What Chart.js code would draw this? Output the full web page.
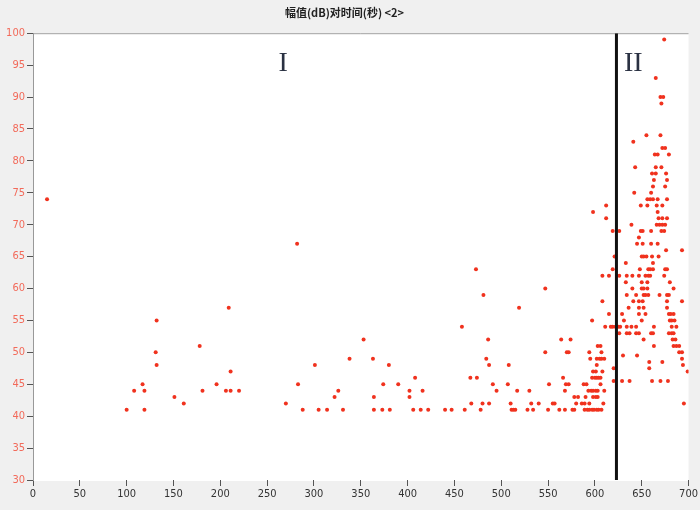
<!DOCTYPE html>
<html>
<head>
<meta charset="utf-8">
<script src="https://cdn.jsdelivr.net/npm/chart.js@4"></script>
<style>
  body { margin: 0; background: #f0f0f0; }
  canvas { display: block; }
</style>
</head>
<body>
<canvas id="chart" width="700" height="510"></canvas>
<script>
// time (s) and amplitude (dB) of each event, same order in both arrays
const timeSec = [
  15, 100, 108, 117, 119, 119, 131, 132, 132, 151, 161, 178, 181, 196, 206, 209, 211, 211, 220,
  270, 282, 283, 288, 301, 305, 314, 322, 326, 331, 338,
  353, 363, 364, 364, 373, 374, 380, 381, 390, 402, 402, 406, 408, 414, 416, 422,
  440, 447, 458, 461, 467, 468, 473, 474, 478, 480, 481, 484, 486, 487, 487, 491, 495,
  507, 508, 510, 511, 513, 515, 517, 519, 528, 530, 532, 534, 540, 547, 547, 550, 551, 555, 557,
  562, 564, 566, 568, 568, 569, 570, 572, 572, 574, 576, 578, 578, 580, 582,
  589, 592, 594, 597, 599, 602, 604, 607,
  586, 589, 594, 609, 695,
  590, 598, 601, 603,
  593, 596, 598, 601, 603, 610,
  588, 591, 606,
  620, 629, 637, 661, 670, 678,
  597, 600, 602, 604, 606,
  598, 601, 608, 699,
  620, 658,
  602, 694,
  658, 672,
  595, 602, 605, 607, 610, 693,
  630, 645,
  594, 607, 690, 693,
  603, 606, 663, 684, 687, 690,
  652, 683, 686,
  626, 634, 637, 644, 647, 660, 662, 679, 682, 684,
  611, 617, 619, 622, 625, 627, 634, 639, 644, 663, 682, 687,
  597, 631, 650, 680, 682, 685,
  615, 629, 647, 654, 679, 681, 684,
  636, 647, 652, 677,
  608, 641, 647, 651, 677, 693,
  634, 644, 652, 654, 657, 669, 677, 679,
  640, 650, 652, 656, 684,
  633, 650, 656, 680,
  608, 615, 626, 634, 640, 647, 654, 657, 659, 674,
  619, 648, 657, 659, 662, 675, 677,
  633, 662,
  621, 650, 652, 655, 661, 668,
  676, 693,
  645, 651, 660, 667,
  647,
  619, 626, 649, 651, 660, 671, 674,
  639, 666, 669, 672, 675,
  612, 668, 672, 677,
  598, 667,
  612, 649, 656, 666, 672,
  656, 659, 662, 667, 677,
  642, 660,
  662, 675,
  663, 677,
  661, 665, 676,
  643, 665, 671,
  664, 667, 679,
  672, 675,
  641,
  655, 670,
  671,
  670, 673,
  665,
  674
];
const ampDb = [
  74, 41, 44, 45, 44, 41, 50, 48, 55, 43, 42, 51, 44, 45, 44, 57, 47, 44, 44,
  42, 67, 45, 41, 48, 41, 41, 43, 44, 41, 49,
  52, 49, 43, 41, 41, 45, 48, 41, 45, 44, 43, 41, 46, 41, 44, 41,
  41, 41, 54, 41, 46, 42, 63, 46, 41, 42, 59, 49, 52, 48, 42, 45, 44,
  45, 48, 42, 41, 41, 41, 44, 57, 41, 44, 42, 41, 42, 50, 60, 41, 45, 42, 42,
  41, 52, 46, 44, 41, 45, 50, 45, 50, 52, 41, 41, 43, 42, 43,
  41, 41, 41, 41, 41, 41, 41, 41,
  42, 42, 42, 42, 42,
  43, 43, 43, 43,
  44, 44, 44, 44, 44, 44,
  45, 45, 45,
  45.5, 45.5, 45.5, 45.5, 45.5, 45.5,
  46, 46, 46, 46, 46,
  47, 47, 47, 47,
  47.5, 47.5,
  48, 48,
  48.5, 48.5,
  49, 49, 49, 49, 49, 49,
  49.5, 49.5,
  50, 50, 50, 50,
  51, 51, 51, 51, 51, 51,
  52, 52, 52,
  53, 53, 53, 53, 53, 53, 53, 53, 53, 53,
  54, 54, 54, 54, 54, 54, 54, 54, 54, 54, 54, 54,
  55, 55, 55, 55, 55, 55,
  56, 56, 56, 56, 56, 56, 56,
  57, 57, 57, 57,
  58, 58, 58, 58, 58, 58,
  59, 59, 59, 59, 59, 59, 59, 59,
  60, 60, 60, 60, 60,
  61, 61, 61, 61,
  62, 62, 62, 62, 62, 62, 62, 62, 62, 62,
  63, 63, 63, 63, 63, 63, 63,
  64, 64,
  65, 65, 65, 65, 65, 65,
  66, 66,
  67, 67, 67, 67,
  68,
  69, 69, 69, 69, 69, 69, 69,
  70, 70, 70, 70, 70,
  71, 71, 71, 71,
  72, 72,
  73, 73, 73, 73, 73,
  74, 74, 74, 74, 74,
  75, 75,
  76, 76,
  77, 77,
  78, 78, 78,
  79, 79, 79,
  81, 81, 81,
  82, 82,
  83,
  84, 84,
  89,
  90, 90,
  93,
  99
];

const dividerTime = 623;
const regionLabels = ["I", "II"];
const regionLabelX = [267, 641];
const regionLabelY = [95.3, 95.3];

const points = timeSec.map((t, i) => ({ x: t, y: ampDb[i] }));

// white plot area, top frame line and the I / II marks
const plotDecor = {
  id: "plotDecor",
  beforeDraw(chart) {
    const { ctx, chartArea: a } = chart;
    ctx.save();
    ctx.fillStyle = "#ffffff";
    ctx.fillRect(a.left, a.top, a.right - a.left, a.bottom - a.top + 1);
    ctx.strokeStyle = "#a0a0a0";
    ctx.lineWidth = 1;
    ctx.beginPath();
    ctx.moveTo(a.left, a.top + 0.5);
    ctx.lineTo(a.right, a.top + 0.5);
    ctx.stroke();
    ctx.restore();
  },
  afterDatasetsDraw(chart) {
    const { ctx } = chart;
    const xs = chart.scales.x, ys = chart.scales.y;
    ctx.save();
    ctx.font = '28px "Liberation Serif", "DejaVu Serif", serif';
    ctx.fillStyle = "#2a3142";
    ctx.textAlign = "center";
    ctx.textBaseline = "middle";
    regionLabels.forEach((t, i) => {
      ctx.fillText(t, xs.getPixelForValue(regionLabelX[i]), ys.getPixelForValue(regionLabelY[i]));
    });
    ctx.restore();
  }
};

const tickFont = { family: '"Liberation Sans Narrow", "DejaVu Sans Condensed", sans-serif', size: 11 };

new Chart(document.getElementById("chart"), {
  type: "scatter",
  data: {
    datasets: [
      {
        type: "line",
        data: [{ x: dividerTime, y: 30 }, { x: dividerTime, y: 100 }],
        borderColor: "#111111",
        borderWidth: 3,
        pointRadius: 0,
        order: 0
      },
      {
        data: points,
        backgroundColor: "#f0321e",
        borderWidth: 0,
        pointRadius: 2,
        order: 1
      }
    ]
  },
  options: {
    responsive: false,
    animation: false,
    layout: { padding: { left: 0, right: 11, top: 0, bottom: 0 } },
    plugins: {
      legend: { display: false },
      tooltip: { enabled: false },
      title: {
        display: true,
        text: "幅值(dB)对时间(秒) <2>",
        color: "#222",
        font: { family: '"Noto Sans CJK SC", sans-serif', size: 11, weight: "bold", lineHeight: 1.2 },
        padding: { top: 6, bottom: 14 }
      }
    },
    scales: {
      x: {
        type: "linear",
        min: 0,
        max: 700,
        ticks: { stepSize: 50, color: "#333", font: tickFont, padding: 2, maxRotation: 0 },
        grid: { drawOnChartArea: false, tickLength: 6, color: "#555" },
        border: { display: false },
        afterFit: (s) => { s.height = 30; }
      },
      y: {
        min: 30,
        max: 100,
        ticks: { stepSize: 5, color: "#f26a5a", font: tickFont, padding: 2 },
        grid: { drawOnChartArea: false, tickLength: 6, color: "#555" },
        border: { color: "#999" },
        afterFit: (s) => { s.width = 33; }
      }
    }
  },
  plugins: [plotDecor]
});
</script>
</body>
</html>
